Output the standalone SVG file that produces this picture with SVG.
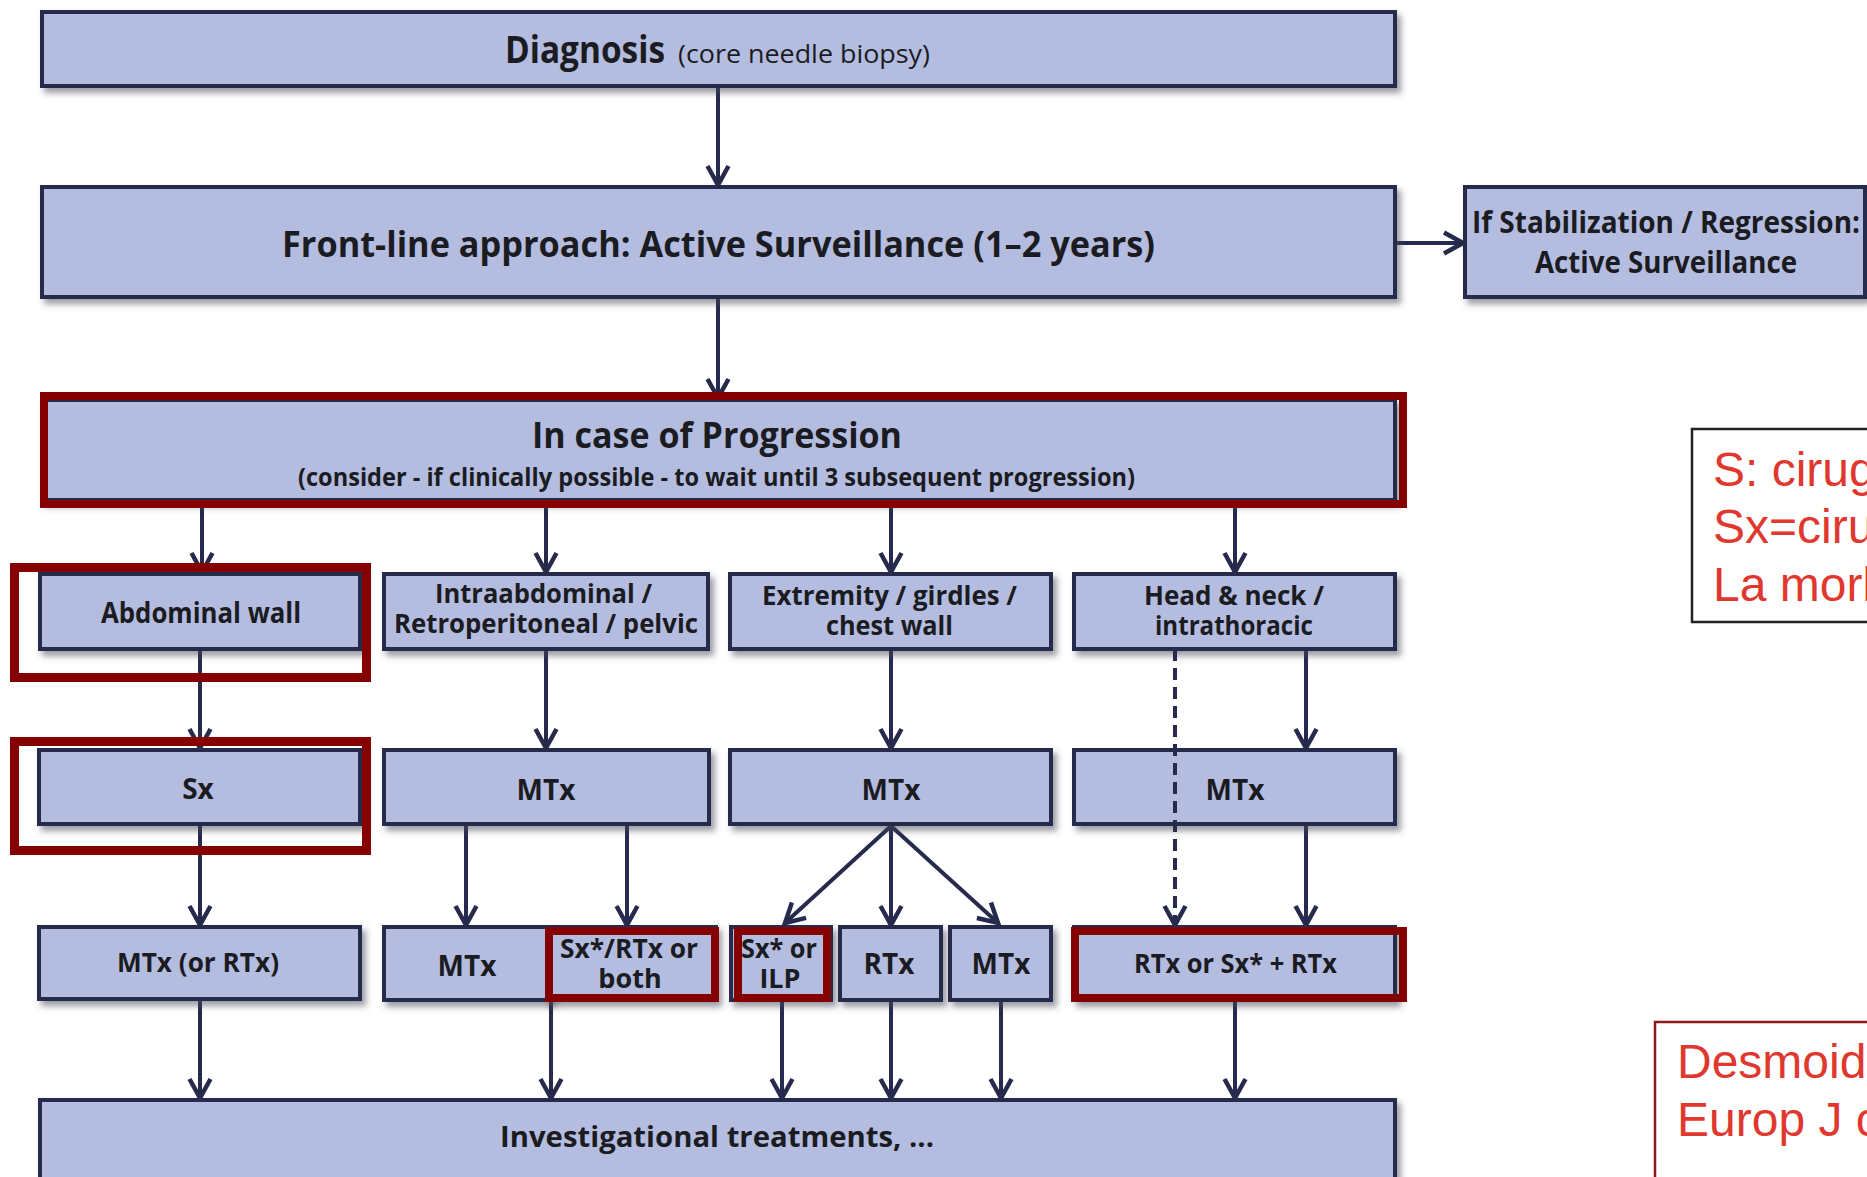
<svg xmlns="http://www.w3.org/2000/svg" width="1867" height="1177" viewBox="0 0 1867 1177">
<style>
.box{fill:#B4BDE0;stroke:#262A4C;stroke-width:4;filter:url(#sh)}
.hl{fill:none;stroke:#850000;stroke-width:8}
.t{font-family:"Open Sans","DejaVu Sans",sans-serif;font-weight:bold;fill:#1B1B22}
.tn{font-family:"Open Sans","DejaVu Sans",sans-serif;font-weight:normal;fill:#1B1B22}
.c{text-anchor:middle}
.con{stroke:#262A4C;stroke-width:4;fill:none;marker-end:url(#ah)}
.dash{stroke-dasharray:12 7}
.note{font-family:"Liberation Sans",Arial,sans-serif;font-size:48px;fill:#E0382E}
</style>
<defs>
<filter id="sh" x="-5%" y="-20%" width="115%" height="150%">
<feDropShadow dx="4" dy="5" stdDeviation="3" flood-color="#4A4A5A" flood-opacity="0.55"/>
</filter>
<marker id="ah" markerUnits="userSpaceOnUse" viewBox="0 0 24 26" markerWidth="24" markerHeight="26" refX="21" refY="13" orient="auto">
<path d="M2,2.5 L21,13 L2,23.5" fill="none" stroke="#262A4C" stroke-width="4.5" stroke-linejoin="miter"/>
</marker>
</defs>
<rect width="1867" height="1177" fill="#FFFFFF"/>

<g id="connectors">
<line class="con" x1="718" y1="86" x2="718" y2="185"/>
<line class="con" x1="718" y1="297" x2="718" y2="398"/>
<line class="con" x1="1395" y1="243" x2="1463" y2="243"/>
<line class="con" x1="202" y1="504" x2="202" y2="572"/>
<line class="con" x1="546" y1="504" x2="546" y2="572"/>
<line class="con" x1="891" y1="504" x2="891" y2="572"/>
<line class="con" x1="1235" y1="504" x2="1235" y2="572"/>
<line class="con" x1="200" y1="649" x2="200" y2="748"/>
<line class="con" x1="546" y1="649" x2="546" y2="748"/>
<line class="con" x1="891" y1="649" x2="891" y2="748"/>
<line class="con" x1="1306" y1="649" x2="1306" y2="748"/>
<line class="con" x1="200" y1="824" x2="200" y2="925"/>
<line class="con" x1="466" y1="824" x2="466" y2="925"/>
<line class="con" x1="627" y1="824" x2="627" y2="925"/>
<line class="con" x1="891" y1="826" x2="785" y2="923"/>
<line class="con" x1="891" y1="826" x2="891" y2="925"/>
<line class="con" x1="891" y1="826" x2="998" y2="923"/>
<line class="con" x1="1306" y1="824" x2="1306" y2="925"/>
<line class="con" x1="200" y1="1000" x2="200" y2="1098"/>
<line class="con" x1="551" y1="1000" x2="551" y2="1098"/>
<line class="con" x1="782" y1="1000" x2="782" y2="1098"/>
<line class="con" x1="891" y1="1000" x2="891" y2="1098"/>
<line class="con" x1="1001" y1="1000" x2="1001" y2="1098"/>
<line class="con" x1="1235" y1="1000" x2="1235" y2="1098"/>
</g>

<g id="diagnosis">
<rect class="box" x="42" y="12" width="1353" height="74"/>
<text class="t" x="505" y="63" font-size="38" textLength="160" lengthAdjust="spacingAndGlyphs">Diagnosis</text>
<text class="tn" x="678" y="63" font-size="25" textLength="252" lengthAdjust="spacingAndGlyphs">(core needle biopsy)</text>
</g>

<g id="frontline">
<rect class="box" x="42" y="187" width="1353" height="110"/>
<text class="t" x="282" y="257" font-size="36" textLength="873" lengthAdjust="spacingAndGlyphs">Front-line approach: Active Surveillance (1–2 years)</text>
</g>

<g id="stabilization">
<rect class="box" x="1465" y="187" width="400" height="110"/>
<text class="t" x="1472" y="233" font-size="30" textLength="388" lengthAdjust="spacingAndGlyphs">If Stabilization / Regression:</text>
<text class="t" x="1535" y="273" font-size="30" textLength="262" lengthAdjust="spacingAndGlyphs">Active Surveillance</text>
</g>

<g id="progression">
<rect class="box" x="42" y="400" width="1353" height="100"/>
<text class="t" x="532" y="448" font-size="36" textLength="370" lengthAdjust="spacingAndGlyphs">In case of Progression</text>
<text class="t" x="298" y="486" font-size="25" textLength="837" lengthAdjust="spacingAndGlyphs">(consider - if clinically possible - to wait until 3 subsequent progression)</text>
<rect class="hl" x="44" y="396" width="1359" height="108"/>
</g>

<g id="abdominal">
<rect class="box" x="40" y="574" width="320" height="75"/>
<text class="t" x="101" y="623" font-size="28" textLength="200" lengthAdjust="spacingAndGlyphs">Abdominal  wall</text>
<rect class="hl" x="14.5" y="567.5" width="352" height="110" style="stroke-width:9"/>
</g>

<g id="intraabdominal">
<rect class="box" x="384" y="574" width="324" height="75"/>
<text class="t" x="435" y="603" font-size="27" textLength="217" lengthAdjust="spacingAndGlyphs">Intraabdominal /</text>
<text class="t" x="394" y="633" font-size="27" textLength="304" lengthAdjust="spacingAndGlyphs">Retroperitoneal / pelvic</text>
</g>

<g id="extremity">
<rect class="box" x="730" y="574" width="321" height="75"/>
<text class="t" x="762" y="605" font-size="27" textLength="255" lengthAdjust="spacingAndGlyphs">Extremity / girdles /</text>
<text class="t" x="826" y="635" font-size="27" textLength="127" lengthAdjust="spacingAndGlyphs">chest wall</text>
</g>

<g id="headneck">
<rect class="box" x="1074" y="574" width="321" height="75"/>
<text class="t" x="1144" y="605" font-size="27" textLength="180" lengthAdjust="spacingAndGlyphs">Head &amp; neck /</text>
<text class="t" x="1155" y="635" font-size="27" textLength="158" lengthAdjust="spacingAndGlyphs">intrathoracic</text>
</g>

<g id="sx1">
<rect class="box" x="39" y="750" width="321" height="74"/>
<text class="t c" x="198" y="799" font-size="28">Sx</text>
<rect class="hl" x="14.5" y="741.5" width="352" height="109" style="stroke-width:9"/>
</g>

<g id="mtx2">
<rect class="box" x="384" y="750" width="325" height="74"/>
<text class="t c" x="546" y="800" font-size="28">MTx</text>
</g>

<g id="mtx3">
<rect class="box" x="730" y="750" width="321" height="74"/>
<text class="t c" x="891" y="800" font-size="28">MTx</text>
</g>

<g id="mtx4">
<rect class="box" x="1074" y="750" width="321" height="74"/>
<text class="t c" x="1235" y="800" font-size="28">MTx</text>
</g>

<g id="dashed-connector">
<line class="con dash" x1="1175" y1="649" x2="1175" y2="925"/>
</g>

<g id="mtxorrtx">
<rect class="box" x="39" y="927" width="321" height="72"/>
<text class="t" x="117" y="972" font-size="27" textLength="162" lengthAdjust="spacingAndGlyphs">MTx (or RTx)</text>
</g>

<g id="mtx2b">
<rect class="box" x="384" y="927" width="166" height="73"/>
<text class="t c" x="467" y="976" font-size="28">MTx</text>
</g>

<g id="sxrtx">
<rect class="box" x="548" y="927" width="168" height="73"/>
<text class="t" x="560" y="958" font-size="27" textLength="138" lengthAdjust="spacingAndGlyphs">Sx*/RTx or</text>
<text class="t c" x="630" y="988" font-size="27">both</text>
<rect class="hl" x="549" y="931" width="166" height="67"/>
</g>

<g id="sxilp">
<rect class="box" x="731" y="927" width="100" height="73"/>
<text class="t" x="741" y="958" font-size="27" textLength="76" lengthAdjust="spacingAndGlyphs">Sx* or</text>
<text class="t c" x="780" y="988" font-size="27">ILP</text>
<rect class="hl" x="738" y="931" width="89" height="67"/>
</g>

<g id="rtx3">
<rect class="box" x="840" y="927" width="101" height="73"/>
<text class="t c" x="889" y="974" font-size="28">RTx</text>
</g>

<g id="mtx3b">
<rect class="box" x="950" y="927" width="101" height="73"/>
<text class="t c" x="1001" y="974" font-size="28">MTx</text>
</g>

<g id="rtxsx">
<rect class="box" x="1074" y="927" width="321" height="73"/>
<text class="t" x="1134" y="973" font-size="27" textLength="203" lengthAdjust="spacingAndGlyphs">RTx or Sx* + RTx</text>
<rect class="hl" x="1075" y="931" width="328" height="67"/>
</g>

<g id="investigational">
<rect class="box" x="40" y="1100" width="1355" height="95"/>
<text class="t" x="500" y="1147" font-size="28" textLength="434" lengthAdjust="spacingAndGlyphs">Investigational treatments, ...</text>
</g>

<g id="note-abbrev">
<rect x="1692" y="429" width="200" height="193" fill="#FFFFFF" stroke="#222222" stroke-width="2.5"/>
<text class="note" x="1713" y="486">S: cirug</text>
<text class="note" x="1713" y="543">Sx=ciru</text>
<text class="note" x="1713" y="601">La morl</text>
</g>

<g id="note-ref">
<rect x="1655" y="1022" width="250" height="200" fill="#FFFFFF" stroke="#8B1A1A" stroke-width="2.5"/>
<text class="note" x="1677" y="1078">Desmoid</text>
<text class="note" x="1677" y="1136">Europ J c</text>
</g>
</svg>
